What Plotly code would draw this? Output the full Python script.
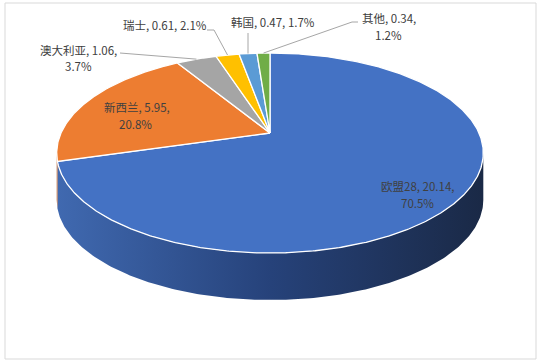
import numpy as np
import plotly.graph_objects as go

# ---- data ----
names = ["欧盟28", "新西兰", "澳大利亚", "瑞士", "韩国", "其他"]
values = [20.14, 5.95, 1.06, 0.61, 0.47, 0.34]
percents = [70.5, 20.8, 3.7, 2.1, 1.7, 1.2]
colors = ["#4472C4", "#ED7D31", "#A5A5A5", "#FFC000", "#5B9BD5", "#70AD47"]

# ---- style / geometry (pixel space) ----
W, H = 542, 363
CX, CY, RA, RB, K, DEPTH = 270, 133, 209, 96, 0.2, 47
FONT = "Noto Sans CJK SC, Noto Sans, sans-serif"
TXT = "#404040"
label_split = [True, True, True, False, False, True]
label_pos = [
    [(417, 186), (417, 203)],
    [(137, 107), (135, 124)],
    [(78, 50), (78, 66)],
    [(165, 25)],
    [(273, 22)],
    [(389, 18), (388, 35)],
]
leader_start = [None, None, [(120, 53)], [(207, 30), (214, 30)], [(None, 33)], [(358, 22), (352, 22)]]


def proj(theta_deg, dy=0.0):
    t = np.radians(theta_deg)
    d = 1 + K * np.cos(t)
    return CX + RA * np.sin(t) / d, CY - RB * np.cos(t) / d + dy


total = sum(values)
bounds = np.concatenate([[0], np.cumsum(values) / total * 360])

fig = go.Figure()

# side wall (front visible part) of first slice
t_right = np.degrees(np.arccos(-K))
t_sil_left = 360 - t_right
t_end = min(bounds[1], t_sil_left)
ts = np.linspace(t_right, t_end, 200)
xt, yt = proj(ts)
xb, yb = proj(ts[::-1], DEPTH)
fig.add_trace(go.Scatter(
    x=np.concatenate([xt, xb, xt[:1]]), y=np.concatenate([yt, yb, yt[:1]]),
    mode="lines", fill="toself", line=dict(width=0, color="rgba(0,0,0,0)"),
    fillgradient=dict(type="horizontal",
                      colorscale=[[0, "#4069b0"], [0.5, "#26427a"], [1, "#1a2946"]]),
    hoverinfo="skip", showlegend=False))
# side of second slice (small sliver at left)
if bounds[1] < t_sil_left:
    ts2 = np.linspace(bounds[1], t_sil_left, 30)
    xt2, yt2 = proj(ts2)
    xb2, yb2 = proj(ts2[::-1], DEPTH)
    fig.add_trace(go.Scatter(
        x=np.concatenate([xt2, xb2, xt2[:1]]), y=np.concatenate([yt2, yb2, yt2[:1]]),
        mode="lines", fill="toself", line=dict(width=0, color="rgba(0,0,0,0)"),
        fillcolor="#c0652a", hoverinfo="skip", showlegend=False))

# top slices
for i, (n, v) in enumerate(zip(names, values)):
    a0, a1 = bounds[i], bounds[i + 1]
    ts = np.linspace(a0, a1, max(8, int((a1 - a0) * 2)))
    px, py = proj(ts)
    fig.add_trace(go.Scatter(
        x=np.concatenate([[CX], px, [CX]]), y=np.concatenate([[CY], py, [CY]]),
        mode="lines", fill="toself", fillcolor=colors[i],
        line=dict(color="white", width=1.3), name=n,
        hoverinfo="text", text=f"{n}: {v}", showlegend=False))

# leader lines
for i in range(len(names)):
    if leader_start[i] is None:
        continue
    mid = (bounds[i] + bounds[i + 1]) / 2
    ex, ey = proj(mid)
    pts = [(ex if p[0] is None else p[0], p[1]) for p in leader_start[i]] + [(float(ex), float(ey))]
    fig.add_trace(go.Scatter(x=[p[0] for p in pts], y=[p[1] for p in pts], mode="lines",
                             line=dict(color="#a6a6a6", width=1), hoverinfo="skip",
                             showlegend=False))

# labels
for i, (n, v, p) in enumerate(zip(names, values, percents)):
    if label_split[i]:
        lines = [f"{n}, {v:g},", f"{p}%"]
    else:
        lines = [f"{n}, {v:g}, {p}%"]
    for txt, (lx, ly) in zip(lines, label_pos[i]):
        fig.add_annotation(x=lx, y=ly, text=txt, showarrow=False, xanchor="center",
                           yanchor="middle", font=dict(family=FONT, size=11.5, color=TXT))

# chart frame
fig.add_shape(type="rect", x0=5, y0=3, x1=536, y1=359, line=dict(color="#d9d9d9", width=1))

fig.update_xaxes(range=[0, W], visible=False, fixedrange=True)
fig.update_yaxes(range=[H, 0], visible=False, fixedrange=True)
fig.update_layout(width=W, height=H, autosize=False, margin=dict(l=0, r=0, t=0, b=0),
                  plot_bgcolor="white", paper_bgcolor="white", showlegend=False)
fig.write_html("out.html")
